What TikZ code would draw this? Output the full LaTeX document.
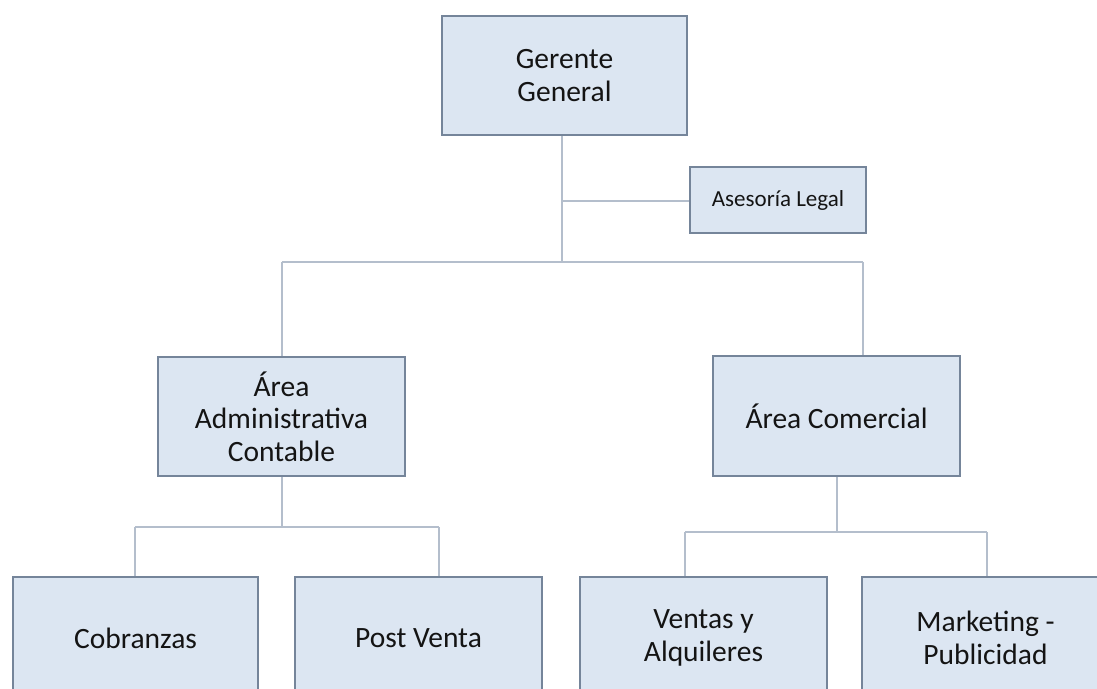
\documentclass[tikz,border=0pt]{standalone}
\usepackage{fontspec}
\setmainfont{Carlito}
\definecolor{boxfill}{HTML}{DCE6F2}
\definecolor{boxline}{HTML}{75859A}
\definecolor{conn}{HTML}{B4BECC}
\definecolor{txt}{HTML}{141414}
\tikzset{
  orgbox/.style={draw=boxline, line width=1.6pt, fill=boxfill, align=center,
    text=txt, inner sep=0pt, font=\fontsize{29.5}{32.5}\selectfont},
  smallbox/.style={orgbox, font=\fontsize{23}{26}\selectfont},
  link/.style={draw=conn, line width=1.3pt}
}
\begin{document}
\begin{tikzpicture}[x=1pt,y=-1pt]
\useasboundingbox (0,0) rectangle (1097,688);
\clip (0,0) rectangle (1097,688);
\fill[white] (0,0) rectangle (1097,688);
\coordinate (j1) at (562,201);
\coordinate (j2) at (562,262);
\coordinate (jl) at (282,262);
\coordinate (jr) at (863,262);
\coordinate (al) at (135,527);
\coordinate (am) at (282,527);
\coordinate (ar) at (439,527);
\coordinate (cl) at (685,532);
\coordinate (cm) at (837,532);
\coordinate (cr) at (987,532);
% boxes
\node[orgbox, minimum width=245pt, minimum height=119pt] (gg) at (564.5,75.5) {Gerente\\General};
\node[smallbox, minimum width=176pt, minimum height=66pt] (al2) at (778,200) {Asesoría Legal};
\node[orgbox, minimum width=247pt, minimum height=119pt] (adm) at (281.5,416.5) {Área\\Administrativa\\Contable};
\node[orgbox, minimum width=247pt, minimum height=120pt] (com) at (836.5,416) {Área Comercial};
\node[orgbox, minimum width=245pt, minimum height=122pt] (cob) at (135.5,638) {Cobranzas};
\node[orgbox, minimum width=247pt, minimum height=122pt] (pv) at (418.5,638) {Post Venta};
\node[orgbox, minimum width=247pt, minimum height=122pt] (va) at (703.5,638) {Ventas y\\Alquileres};
\node[orgbox, minimum width=247pt, minimum height=122pt] (mp) at (985.5,638) {Marketing -\\Publicidad};
% connectors
\draw[link] (gg.south -| j2) -- (j2);
\draw[link] (j1) -- (al2.west |- j1);
\draw[link] (jl) -- (jr);
\draw[link] (jl) -- (jl |- adm.north);
\draw[link] (jr) -- (jr |- com.north);
\draw[link] (adm.south -| am) -- (am);
\draw[link] (al) -- (ar);
\draw[link] (al) -- (al |- cob.north);
\draw[link] (ar) -- (ar |- pv.north);
\draw[link] (com.south -| cm) -- (cm);
\draw[link] (cl) -- (cr);
\draw[link] (cl) -- (cl |- va.north);
\draw[link] (cr) -- (cr |- mp.north);
\end{tikzpicture}
\end{document}
